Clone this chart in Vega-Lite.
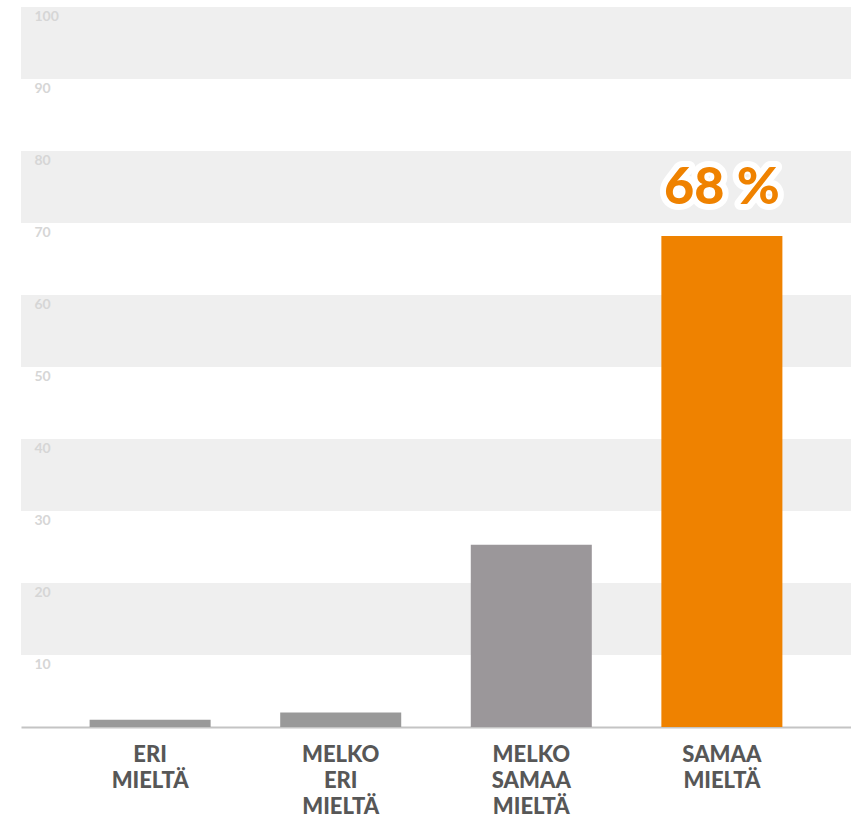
{
  "$schema": "https://vega.github.io/schema/vega-lite/v6.json",
  "autosize": "none",
  "width": 830,
  "height": 720,
  "padding": {"left": 21, "top": 7, "right": 0, "bottom": 98},
  "background": "#ffffff",
  "config": {"view": {"stroke": null}},
  "datasets": {
    "bands": [
      {"lo": 90, "hi": 100},
      {"lo": 70, "hi": 80},
      {"lo": 50, "hi": 60},
      {"lo": 30, "hi": 40},
      {"lo": 10, "hi": 20}
    ],
    "bars": [
      {"category": "ERI MIELTÄ", "value": 1, "label": ""},
      {"category": "MELKO ERI MIELTÄ", "value": 2, "label": ""},
      {"category": "MELKO SAMAA MIELTÄ", "value": 25.3, "label": ""},
      {"category": "SAMAA MIELTÄ", "value": 68.2, "label": "68 %"}
    ]
  },
  "layer": [
    {
      "data": {"name": "bands"},
      "mark": {"type": "rect", "color": "#efefef"},
      "encoding": {
        "y": {"field": "lo", "type": "quantitative", "scale": {"domain": [0, 100], "nice": false},
          "axis": {
            "values": [10, 20, 30, 40, 50, 60, 70, 80, 90, 100],
            "title": null, "grid": false, "domain": false, "ticks": false,
            "labelAlign": "left", "labelBaseline": "top", "labelPadding": -13,
            "labelOffset": 2, "labelFlush": false, "labelOverlap": false, "labelColor": "#d6d6d6",
            "labelFont": "Lato", "labelFontSize": 14, "labelFontWeight": "bold", "zindex": 1
          }},
        "y2": {"field": "hi"}
      }
    },
    {
      "data": {"name": "bars"},
      "mark": {"type": "bar"},
      "encoding": {
        "x": {"field": "category", "type": "nominal", "sort": null,
          "scale": {"paddingInner": 0.365, "paddingOuter": 0.36},
          "axis": {
            "title": null, "ticks": false, "labelAngle": 0,
            "domainColor": "#c4c4c4", "domainWidth": 2,
            "labelExpr": "split(datum.label, ' ')",
            "labelFont": "Lato", "labelFontSize": 22, "labelFontWeight": 900,
            "labelColor": "#575757", "labelLineHeight": 26, "labelPadding": 17
          }},
        "y": {"field": "value", "type": "quantitative"},
        "color": {"field": "category", "type": "nominal", "sort": null,
          "scale": {"range": ["#999999", "#999999", "#9b979a", "#ef8200"]}, "legend": null}
      }
    },
    {
      "data": {"name": "bars"},
      "transform": [{"filter": "datum.label != ''"}],
      "mark": {"type": "text", "font": "Lato", "fontSize": 52, "fontWeight": 900,
        "baseline": "alphabetic", "dy": -32, "stroke": "#ffffff", "strokeWidth": 12,
        "strokeJoin": "round", "fill": "#ffffff"},
      "encoding": {
        "x": {"field": "category", "type": "nominal", "sort": null},
        "y": {"field": "value", "type": "quantitative"},
        "text": {"field": "label"}
      }
    },
    {
      "data": {"name": "bars"},
      "transform": [{"filter": "datum.label != ''"}],
      "mark": {"type": "text", "font": "Lato", "fontSize": 52, "fontWeight": 900,
        "baseline": "alphabetic", "dy": -32, "fill": "#ef8200"},
      "encoding": {
        "x": {"field": "category", "type": "nominal", "sort": null},
        "y": {"field": "value", "type": "quantitative"},
        "text": {"field": "label"}
      }
    }
  ]
}
